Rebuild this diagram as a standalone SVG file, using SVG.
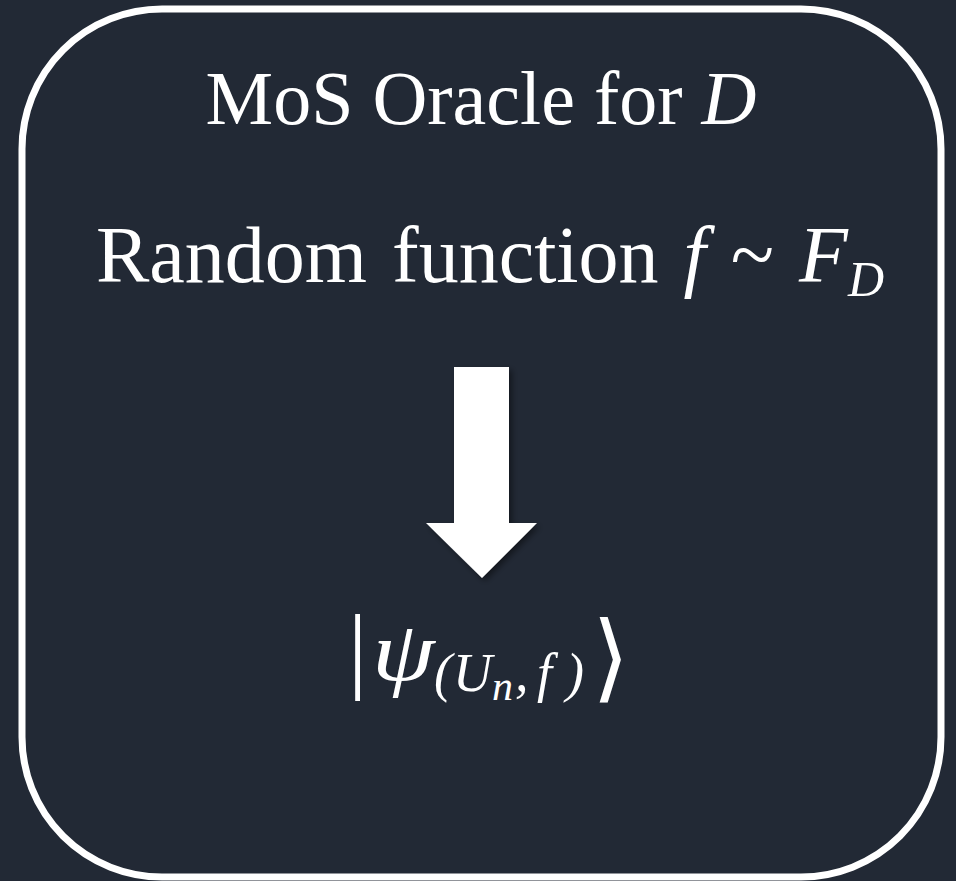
<svg xmlns="http://www.w3.org/2000/svg" width="956" height="881" viewBox="0 0 956 881">
<defs>
<style>
.t{font-family:"Liberation Serif","DejaVu Serif",serif;fill:#ffffff;}
.i{font-style:italic;}
</style>
<filter id="sh" x="-20%" y="-20%" width="150%" height="150%">
<feDropShadow dx="3" dy="3" stdDeviation="3" flood-color="#000000" flood-opacity="0.45"/>
</filter>
</defs>
<rect x="0" y="0" width="956" height="881" fill="#222935"/>
<g id="oracle">
<rect x="22" y="9" width="919" height="868" rx="140" ry="140" fill="none" stroke="#ffffff" stroke-width="7"/>
<text class="t" x="481" y="124" font-size="76" text-anchor="middle">MoS Oracle for <tspan class="i">D</tspan></text>
<text class="t" x="490" y="282" font-size="80" text-anchor="middle" word-spacing="5">Random function <tspan class="i">f</tspan> ~ <tspan class="i">F</tspan><tspan class="i" font-size="50" dy="14">D</tspan></text>
</g>
<g id="connectors">
<path d="M454,367 L509,367 L509,523 L537,523 L482,578 L426,523 L454,523 Z" fill="#ffffff" filter="url(#sh)"/>
</g>
<g id="state">
<text class="t" font-size="96" x="348" y="681">|</text>
<text class="t i" font-size="84" transform="translate(372,680) scale(1.2,1)">ψ</text>
<text class="t i" font-size="54" y="691"><tspan x="434">(</tspan><tspan x="453">U</tspan><tspan x="492" font-size="42" dy="9">n</tspan><tspan x="515" dy="-9">,</tspan><tspan x="537">f</tspan><tspan x="566">)</tspan></text>
<text class="t" font-size="96" x="592" y="690">⟩</text>
</g>
</svg>
